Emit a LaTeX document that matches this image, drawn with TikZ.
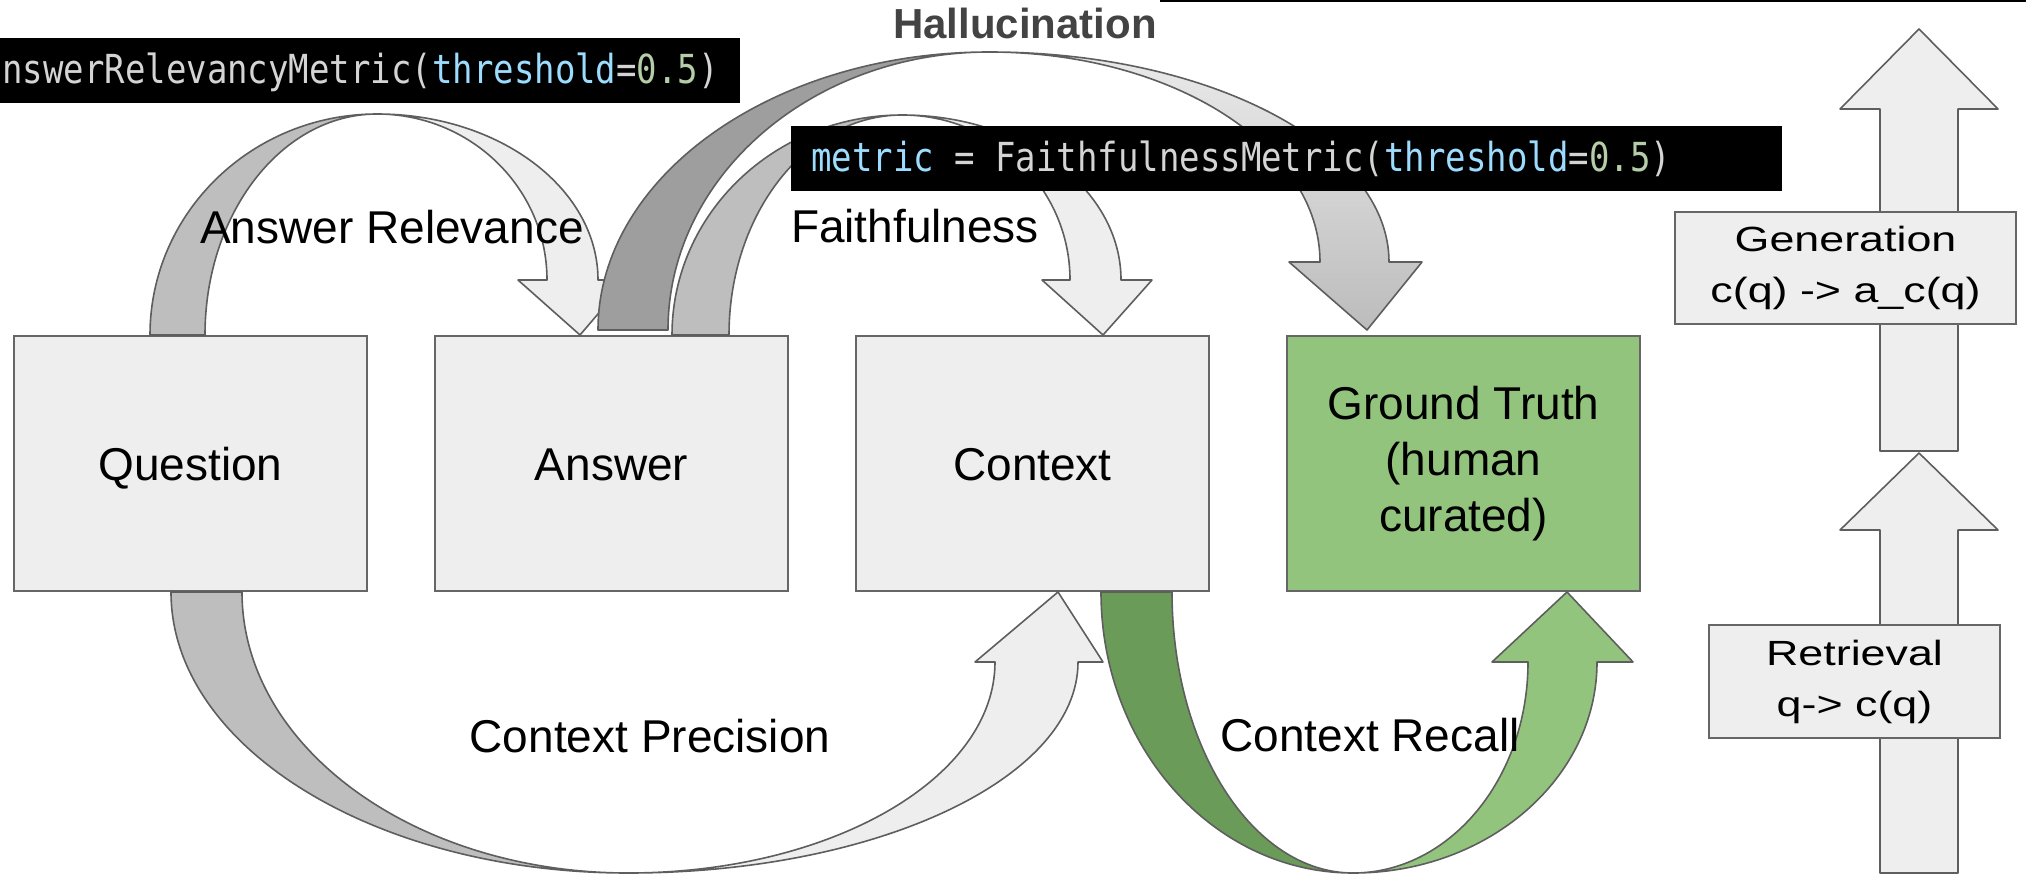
\documentclass[tikz,border=0pt]{standalone}
\usepackage{fontspec}
\setmainfont{Liberation Sans}
\newfontfamily\codefamily[FakeStretch=0.85]{DejaVu Sans Mono}
\newfontfamily\widefamily[FakeStretch=1.28]{Liberation Sans}
\usetikzlibrary{calc}

\definecolor{boxfill}{HTML}{EEEEEE}
\definecolor{edge}{HTML}{666666}
\definecolor{ribbonedge}{HTML}{5E5E5E}
\definecolor{bandlight}{HTML}{EEEEEE}
\definecolor{bandmid}{HTML}{BEBEBE}
\definecolor{banddark}{HTML}{9E9E9E}
\definecolor{hatop}{HTML}{EAEAEA}
\definecolor{habottom}{HTML}{BCBCBC}
\definecolor{greenlight}{HTML}{93C47D}
\definecolor{greendark}{HTML}{6B9B59}
\definecolor{codefg}{HTML}{D4D4D4}
\definecolor{codeblue}{HTML}{9CDCFE}
\definecolor{codegreen}{HTML}{B5CEA8}
\definecolor{titlegray}{HTML}{434343}

\newcommand\diaglabelfont{\fontsize{46}{56}\selectfont}
\newcommand\diagstagefont{\widefamily\fontsize{35}{51}\selectfont}
\newcommand\diagcodefont{\codefamily\fontsize{40}{46}\selectfont}

% quarter-ellipse pieces: vertical tangent -> horizontal tangent, and the reverse
\newcommand\qvh[2]{.. controls ($(#1)!0.5523!(#1|-#2)$) and ($(#2)!0.5523!(#1|-#2)$) .. (#2)}
\newcommand\qhv[2]{.. controls ($(#1)!0.5523!(#2|-#1)$) and ($(#2)!0.5523!(#2|-#1)$) .. (#2)}

% twisted ribbon arrow: back half (tail -> apex) and front half (apex -> head)
\newcommand\ribbon[3]{%
  \draw[ribbonline, fill=#2] (#1to) \qvh{#1to}{#1ap} \qhv{#1ap}{#1ti} -- cycle;
  \draw[ribbonline, #3] (#1ap) \qhv{#1ap}{#1so} -- (#1ho) -- (#1tp) -- (#1hi) -- (#1si) \qvh{#1si}{#1ap} -- cycle;
}

\begin{document}
\begin{tikzpicture}[x=1pt, y=-1pt,
  panel/.style={draw=edge, line width=2, fill=boxfill, inner sep=0pt,
    minimum width=353, minimum height=255, anchor=north west, font=\diaglabelfont},
  oneline/.style={text height=33pt, text depth=0pt},
  stage/.style={draw=edge, line width=2, fill=boxfill, inner sep=0pt,
    anchor=north west, align=center, font=\diagstagefont},
  ribbonline/.style={draw=ribbonedge, line width=1.6, line join=round},
  blockarrow/.style={draw=ribbonedge, line width=1.6, line join=round, fill=boxfill},
  codebox/.style={fill=black, draw=none, inner sep=0pt, anchor=north west, minimum height=65},
  codetext/.style={font=\diagcodefont, inner sep=0pt, text=codefg},
  lbl/.style={font=\diaglabelfont, inner sep=0pt, anchor=base},
]
\useasboundingbox (0,0) rectangle (2026,875);

% the four data boxes
\node[panel, oneline] (question) at (13,335) {Question};
\node[panel, oneline] (answer) at (434,335) {Answer};
\node[panel, oneline] (context) at (855,335) {Context};
\node[panel, fill=greenlight, align=center] (truth) at (1286,335) {Ground Truth\\(human\\curated)};

% Answer Relevance: Question -> Answer
\coordinate (arto) at (150,0 |- question.north);
\coordinate (arti) at (205,0 |- question.north);
\coordinate (arap) at (377,114);
\coordinate (arsi) at (547,280);
\coordinate (arso) at (598,280);
\coordinate (arhi) at (518,280);
\coordinate (arho) at (627,280);
\coordinate (artp) at (580,0 |- answer.north);

% Faithfulness: Answer -> Context
\coordinate (fato) at (672,0 |- answer.north);
\coordinate (fati) at (729,0 |- answer.north);
\coordinate (faap) at (902,115);
\coordinate (fasi) at (1070,280);
\coordinate (faso) at (1121,280);
\coordinate (fahi) at (1042,280);
\coordinate (faho) at (1152,280);
\coordinate (fatp) at (1103,0 |- context.north);

% Hallucination: Answer -> Ground Truth
\coordinate (hato) at ($(598,0 |- answer.north)+(0,-5)$);
\coordinate (hati) at ($(668,0 |- answer.north)+(0,-5)$);
\coordinate (haap) at (989,52);
\coordinate (hasi) at (1320,262);
\coordinate (haso) at (1389,262);
\coordinate (hahi) at (1289,262);
\coordinate (haho) at (1422,262);
\coordinate (hatp) at ($(1367,0 |- truth.north)+(0,-5)$);

% Context Precision: Question -> Context
\coordinate (cpto) at (171,0 |- question.south);
\coordinate (cpti) at (242,0 |- question.south);
\coordinate (cpap) at (628,873);
\coordinate (cpsi) at (995,662);
\coordinate (cpso) at (1078,662);
\coordinate (cphi) at (975,662);
\coordinate (cpho) at (1103,662);
\coordinate (cptp) at (1058,0 |- context.south);

% Context Recall: Context -> Ground Truth
\coordinate (crto) at (1101,0 |- context.south);
\coordinate (crti) at (1172,0 |- context.south);
\coordinate (crap) at (1353,873);
\coordinate (crsi) at (1528,662);
\coordinate (crso) at (1597,662);
\coordinate (crhi) at (1492,662);
\coordinate (crho) at (1633,662);
\coordinate (crtp) at (1567,0 |- truth.south);

\ribbon{ar}{bandmid}{fill=bandlight}
\ribbon{fa}{bandmid}{fill=bandlight}
\ribbon{ha}{banddark}{top color=hatop, bottom color=habottom}
\ribbon{cp}{bandmid}{fill=bandlight}
\ribbon{cr}{greendark}{fill=greenlight}

% pipeline column: two upward block arrows behind the stage boxes
\draw[blockarrow] (1880,873) -- (1880,530) -- (1840,530) -- (1919,453)
  -- (1998,530) -- (1958,530) -- (1958,873) -- cycle;
\draw[blockarrow] (1880,451) -- (1880,109) -- (1840,109) -- (1919,29)
  -- (1998,109) -- (1958,109) -- (1958,451) -- cycle;
\node[stage, minimum width=341, minimum height=112] (generation) at (1674,211)
  {Generation\\c(q) -> a\_c(q)};
\node[stage, minimum width=291, minimum height=113] (retrieval) at (1708,624)
  {Retrieval\\q-> c(q)};

% code snippets
\node[codebox, minimum width=741] (armetric) at (-1,38) {};
\node[codetext, anchor=base east] (armetrictext) at (719,83)
  {nswerRelevancyMetric(\textcolor{codeblue}{threshold}=\textcolor{codegreen}{0.5})};
\node[codebox, minimum width=991] (fametric) at (791,126) {};
\node[codetext, anchor=base west] (fametrictext) at (811,171)
  {\textcolor{codeblue}{metric} = FaithfulnessMetric(\textcolor{codeblue}{threshold}=\textcolor{codegreen}{0.5})};

% metric labels
\node[lbl] (arlabel) at (392,243) {Answer Relevance};
\node[lbl] (falabel) at (915,242) {Faithfulness};
\node[lbl] (cplabel) at (650,752) {Context Precision};
\node[lbl] (crlabel) at (1370,751) {Context Recall};
\node[inner sep=0pt, anchor=base, text=titlegray, font=\bfseries\fontsize{42}{50}\selectfont]
  (halabel) at (1025,39) {Hallucination};

% top rule
\coordinate (rulel) at (1160,1);
\coordinate (ruler) at (2026,1);
\draw[line width=2.5, black] (rulel) -- (ruler);
\end{tikzpicture}
\end{document}
